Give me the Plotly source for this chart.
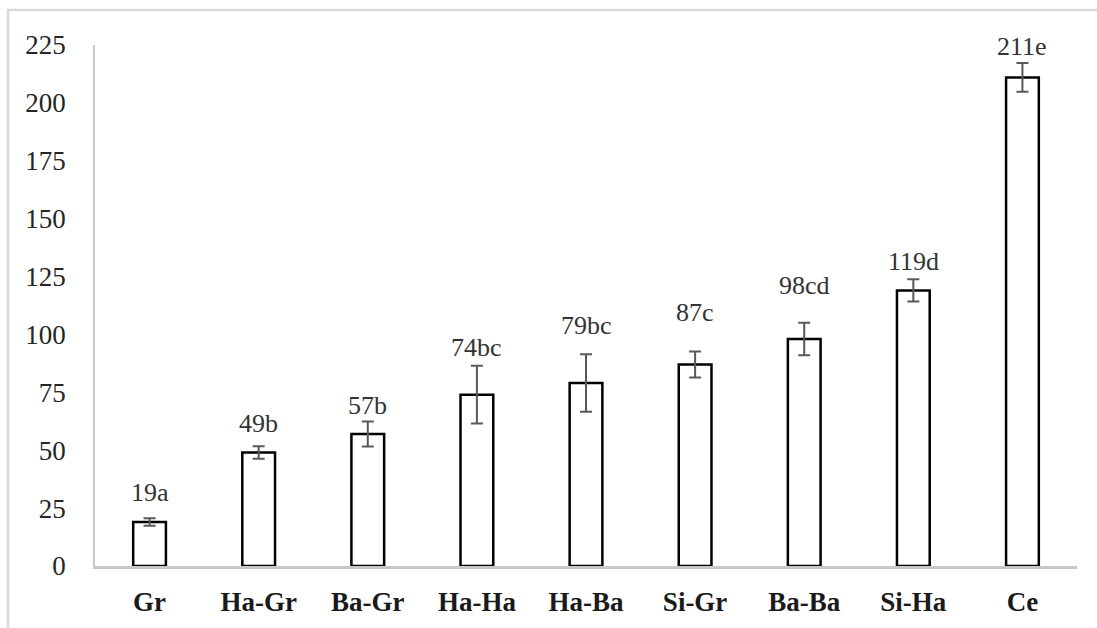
import plotly.graph_objects as go

categories = ["Gr", "Ha-Gr", "Ba-Gr", "Ha-Ha", "Ha-Ba", "Si-Gr", "Ba-Ba", "Si-Ha", "Ce"]
values = [19, 49, 57, 74, 79, 87, 98, 119, 211]
errors = [1.6, 2.7, 5.4, 12.5, 12.4, 5.6, 7.0, 4.8, 6.2]
letters = ["a", "b", "b", "bc", "bc", "c", "cd", "d", "e"]
y_ticks = [0, 25, 50, 75, 100, 125, 150, 175, 200, 225]

W, H = 1097, 628
ML, MR, MT, MB = 95, 20, 45, 62
SERIF = "Liberation Serif"

# hand-placed label offsets (px above the error-bar cap)
label_shift = [9, 6, 0, 2, 12, 23, 21, 1, 0]

fig = go.Figure()
fig.add_trace(go.Bar(
    x=categories,
    y=values,
    marker=dict(color="white", line=dict(color="black", width=2.5)),
    error_y=dict(type="data", array=errors, visible=True,
                 color="#595959", thickness=2, width=6),
    showlegend=False,
))

# value + significance letter above each error bar
for c, v, e, l, s in zip(categories, values, errors, letters, label_shift):
    fig.add_annotation(x=c, y=v + e, text=f"{v}{l}", showarrow=False,
                       yanchor="bottom", yshift=s,
                       font=dict(family=SERIF, size=26, color="#333333"))

# outer chart-area frame
pw, ph = W - ML - MR, H - MT - MB
fig.add_shape(type="rect", xref="paper", yref="paper", layer="below",
              x0=(8 - ML) / pw, x1=(W + 5 - ML) / pw,
              y0=-(MB + 10) / ph, y1=(H - MB - 10) / ph,
              line=dict(color="#d9d9d9", width=2.5), fillcolor="rgba(0,0,0,0)")

fig.update_layout(
    width=W, height=H,
    margin=dict(l=ML, r=MR, t=MT, b=MB),
    paper_bgcolor="white", plot_bgcolor="white",
    bargap=0.7,
    font=dict(family=SERIF, color="#262626"),
    xaxis=dict(showline=True, linecolor="#c8c8c8", linewidth=2.5,
               ticks="", showgrid=False, ticklabelstandoff=10,
               tickfont=dict(family=SERIF, size=27, color="#1a1a1a",
                             weight="bold")),
    yaxis=dict(range=[0, 225], tickvals=y_ticks, showline=True,
               linecolor="#c8c8c8", linewidth=1.5, ticks="", showgrid=False,
               zeroline=False, ticklabelstandoff=22,
               tickfont=dict(family=SERIF, size=27, color="#262626")),
)

fig.write_html("out.html")
